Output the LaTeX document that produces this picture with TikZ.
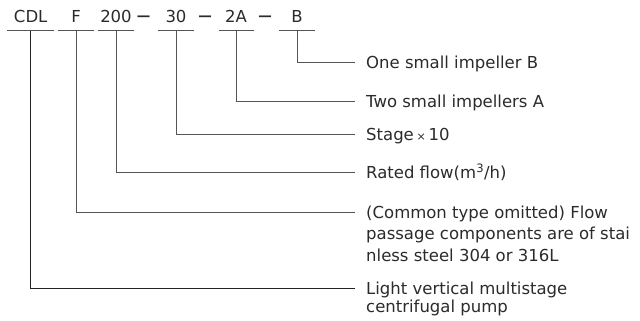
\documentclass[tikz,border=0pt]{standalone}
\usepackage{fontspec}
\setmainfont{DejaVu Sans}
\definecolor{txt}{HTML}{2B2B2B}
\definecolor{ln}{HTML}{555555}
\definecolor{lndark}{HTML}{222222}
\tikzset{
  code/.style={anchor=base, inner sep=0pt, text=txt, font=\fontsize{16.5}{19}\selectfont},
  dashmark/.style={anchor=base, inner sep=0pt, text=txt, font=\fontsize{13.5}{15}\bfseries},
  desc/.style={anchor=base west, inner sep=0pt, text=txt, font=\fontsize{16.5}{19}\selectfont},
  uline/.style={draw=ln, line width=0.9pt},
  lead/.style={draw=ln, line width=0.9pt},
}
\begin{document}
\begin{tikzpicture}[x=1pt,y=-1pt]
\useasboundingbox[fill=white] (0,0) rectangle (640,321);
% codes
\node[code] (cdl) at (30.7,23) {CDL};
\node[code] (f) at (76,23) {F};
\node[code] (n200) at (116,23) {200};
\node[dashmark] (d1) at (143.5,20.6) {—};
\node[code] (n30) at (176,23) {30};
\node[dashmark] (d2) at (205,20.6) {—};
\node[code] (n2a) at (236,23) {2A};
\node[dashmark] (d3) at (265,20.6) {—};
\node[code] (nb) at (297,23) {B};
% underlines
\coordinate (ucdl) at (30.7,30.7);
\coordinate (uf) at (76,30.7);
\coordinate (u200) at (116,30.7);
\coordinate (u30) at (176,30.7);
\coordinate (u2a) at (236,30.7);
\coordinate (ub) at (297,30.7);
\draw[uline] (7,30.7) -- (54,30.7);
\draw[uline] (58,30.7) -- (94,30.7);
\draw[uline] (98,30.7) -- (134,30.7);
\draw[uline] (158,30.7) -- (194,30.7);
\draw[uline] (219,30.7) -- (254,30.7);
\draw[uline] (279,30.7) -- (315,30.7);
% descriptions
\node[desc] (lb) at (366,68.7) {One small impeller B};
\node[desc] (l2a) at (366,107) {Two small impellers A};
\node[desc] (l30) at (366,140.7) {Stage\,{\fontsize{11}{12}\selectfont×}\,10};
\node[desc] (l200) at (366,178.5) {Rated flow(m\textsuperscript{3}/h)};
\node[desc] (lf) at (366,218) {(Common type omitted) Flow};
\node[desc] (lf2) at (366,239.8) {passage components are of stai};
\node[desc] (lf3) at (366,261.6) {nless steel 304 or 316L};
\node[desc] (lcdl) at (366,294) {Light vertical multistage};
\node[desc] (lcdl2) at (366,312.4) {centrifugal pump};
% leader ends
\coordinate (eb) at (355,62.7);
\coordinate (e2a) at (355,101);
\coordinate (e30) at (355,134.7);
\coordinate (e200) at (355,172.5);
\coordinate (ef) at (355,212);
\coordinate (ecdl) at (355,288);
\draw[lead] (ub) |- (eb);
\draw[lead] (u2a) |- (e2a);
\draw[lead] (u30) |- (e30);
\draw[lead] (u200) |- (e200);
\draw[lead] (uf) |- (ef);
\draw[lead,draw=lndark] (ucdl) |- (ecdl);
\end{tikzpicture}
\end{document}
